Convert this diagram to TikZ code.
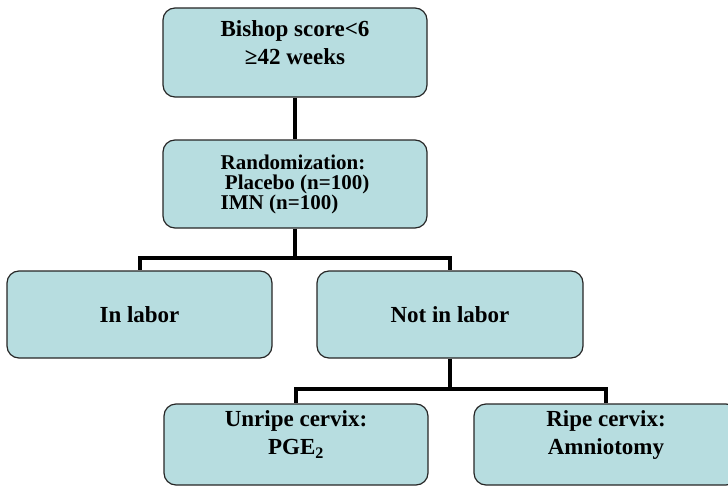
\documentclass[tikz,border=0pt]{standalone}
\usepackage{fontspec}
\setmainfont{Liberation Serif}
\usetikzlibrary{positioning, calc}
\definecolor{boxfill}{RGB}{183,221,224}

\begin{document}
\begin{tikzpicture}[
  x=1pt, y=-1pt,
  font=\fontsize{23}{28}\selectfont\bfseries,
  stage/.style={draw=black!85, fill=boxfill, rounded corners=12pt, line width=1.2pt,
                minimum width=264pt, minimum height=87pt, align=center, inner sep=0pt},
  link/.style={line width=4pt, black}
]
\useasboundingbox (0,0) rectangle (728,487);
\clip (0,0) rectangle (728,487);

% top of the chart
\node[stage, minimum height=89pt] (bishop) at (295,52.5) {Bishop score<6\\ ≥42 weeks\\[-8pt]\mbox{}};
\node[stage, minimum height=88pt, align=left,
      font=\fontsize{21}{20}\selectfont\bfseries] (rand) at (295,184)
  {Randomization:\\ \hspace{0.2em}Placebo (n=100)\\ IMN (n=100)};

% first split
\node[stage, minimum width=265pt] (inlab) at (139.5,314.5) {In labor};
\node[stage, minimum width=266pt] (notin) at (450,314.5) {Not in labor};

% second split
\node[stage, minimum height=81pt] (unripe) at (296,444.5) {Unripe cervix:\\ PGE\textsubscript{2}\\[-4pt]\mbox{}};
\node[stage, minimum height=81pt] (ripe) at (606,444.5) {Ripe cervix:\\ Amniotomy\\[-4pt]\mbox{}};

\coordinate (j1) at ($(rand.south)+(0,29)$);
\coordinate (j2) at ($(notin.south)+(0,30)$);

\draw[link] (bishop.south) -- (rand.north);
\draw[link] (rand.south) -- (j1);
\draw[link] (j1) -| (inlab.north);
\draw[link] (j1) -| (notin.north);
\draw[link] (notin.south) -- (j2);
\draw[link] (j2) -| (unripe.north);
\draw[link] (j2) -| (ripe.north);
\end{tikzpicture}
\end{document}
